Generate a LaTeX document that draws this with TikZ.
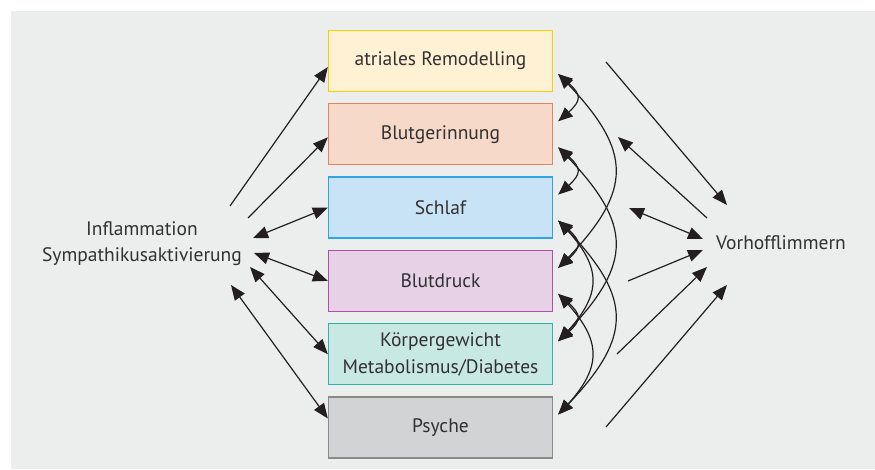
\documentclass[tikz,border=0pt]{standalone}
\usepackage{fontspec}
\setmainfont{PT Sans}
\usetikzlibrary{calc,arrows.meta,positioning,bending}
\definecolor{bggray}{RGB}{236,238,237}
\definecolor{ink}{RGB}{35,31,32}
\definecolor{txtgray}{RGB}{50,48,50}
\definecolor{yelline}{RGB}{255,204,0}
\definecolor{yelfill}{RGB}{255,242,212}
\definecolor{orline}{RGB}{232,130,94}
\definecolor{orfill}{RGB}{247,217,201}
\definecolor{blline}{RGB}{46,164,224}
\definecolor{blfill}{RGB}{200,227,245}
\definecolor{viline}{RGB}{176,79,168}
\definecolor{vifill}{RGB}{230,209,230}
\definecolor{tuline}{RGB}{43,181,165}
\definecolor{tufill}{RGB}{200,232,228}
\definecolor{grline}{RGB}{138,138,138}
\definecolor{grfill}{RGB}{210,211,213}

\begin{document}
\begin{tikzpicture}[x=1pt,y=1pt,
    box/.style 2 args={draw=#1,fill=#2,line width=1.3pt,minimum width=224pt,minimum height=61pt,
        inner sep=0pt,align=center,text=txtgray,font=\fontsize{19.5}{27}\selectfont},
    lbl/.style={align=center,text=txtgray,font=\fontsize{19.5}{26}\selectfont},
    arr/.style={ink,line width=1.2pt,-{Triangle[length=15pt,width=12pt]}},
    both/.style={ink,line width=1.2pt,{Triangle[length=15pt,width=12pt,bend]}-{Triangle[length=15pt,width=12pt,bend]}},
    node distance=11pt]
    \fill[white] (0,0) rectangle (875,469);
    \fill[bggray] (11,0) rectangle (875,458);
    \useasboundingbox (0,0) rectangle (875,469);

    \node[box={yelline}{yelfill}] (b1) at (440.5,408) {atriales Remodelling};
    \node[box={orline}{orfill}, below=of b1] (b2) {Blutgerinnung};
    \node[box={blline}{blfill}, below=of b2] (b3) {Schlaf};
    \node[box={viline}{vifill}, below=of b3] (b4) {Blutdruck};
    \node[box={tuline}{tufill}, below=of b4] (b5) {Körpergewicht\\Metabolismus/Diabetes};
    \node[box={grline}{grfill}, below=of b5] (b6) {Psyche};

    \node[lbl] (infl) at (142,225) {Inflammation\\Sympathikusaktivierung};
    \node[lbl] (vh) at (781,226) {Vorhofflimmern};

    \foreach \i in {1,...,6} {
        \coordinate (u\i) at ([shift={(5pt,13pt)}]b\i.east);
        \coordinate (l\i) at ([shift={(5pt,-13pt)}]b\i.east);
    }

    \coordinate (a1) at (230,263);
    \coordinate (a2) at (248,251);
    \coordinate (a3) at (253,231);
    \coordinate (a4) at (254,216);
    \coordinate (a5) at (250,202);
    \coordinate (a6) at (231,184);
    \draw[arr] (a1) -- ([yshift=-6pt]b1.west);
    \draw[arr] (a2) -- ([yshift=-3pt]b2.west);
    \draw[both] (a3) -- (b3.west);
    \draw[both] (a4) -- (b4.west);
    \draw[both] (a5) -- (b5.west);
    \draw[both] (a6) -- ([yshift=9pt]b6.west);

    \draw[both] (l1) to[bend left=50,looseness=1.9] (u2);
    \draw[both] (l2) to[bend left=50,looseness=1.9] (u3);
    \draw[both] (l3) to[bend left=50,looseness=1.9] (u4);
    \draw[both] (l4) to[bend left=50,looseness=1.9] (u5);
    \draw[both] (l3) to[bend left=45,looseness=1.4] (u5);
    \draw[both] (l4) to[bend left=45,looseness=1.4] (u6);
    \draw[both] (l1) to[bend left=45,looseness=1.45] (u4);
    \draw[both] (l2) to[bend left=45,looseness=1.45] (u5);
    \draw[both] (l3) to[bend left=45,looseness=1.45] (u6);

    \coordinate (c1) at (606,407);
    \coordinate (d1) at (727,264);
    \coordinate (c2) at (707,251);
    \coordinate (d2) at (618,332);
    \coordinate (c3) at (629,261);
    \coordinate (d3) at (703,230);
    \coordinate (c4) at (628,188);
    \coordinate (d4) at (703,219);
    \coordinate (c5) at (617,115);
    \coordinate (d5) at (707,202);
    \coordinate (c6) at (606,42);
    \coordinate (d6) at (727,184);
    \draw[arr] (c1) -- (d1);
    \draw[arr] (c2) -- (d2);
    \draw[both] (c3) -- (d3);
    \draw[arr] (c4) -- (d4);
    \draw[arr] (c5) -- (d5);
    \draw[arr] (c6) -- (d6);
\end{tikzpicture}
\end{document}
